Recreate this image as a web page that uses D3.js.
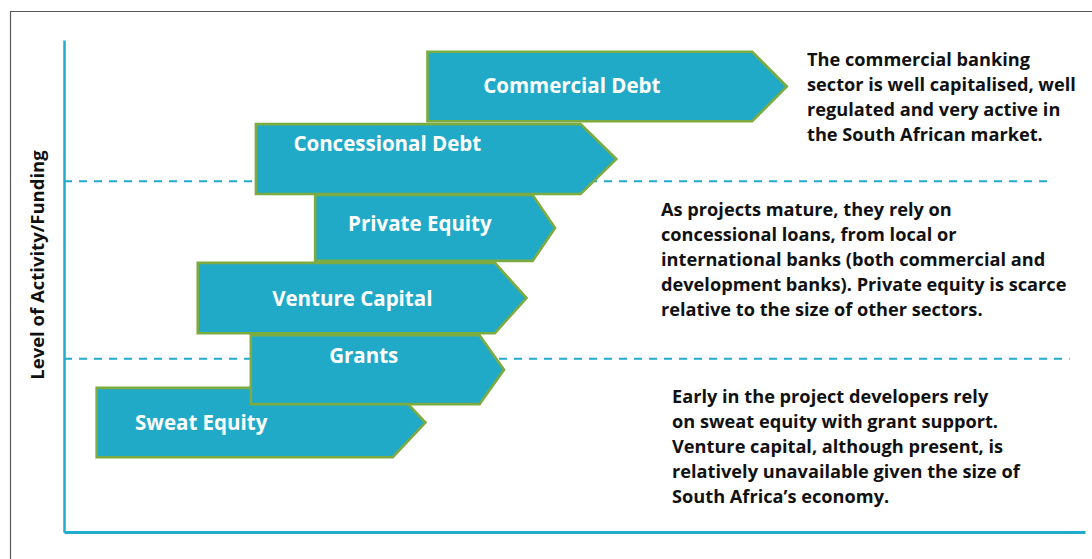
<!DOCTYPE html>
<html>
<head>
<meta charset="utf-8">
<script src="https://cdn.jsdelivr.net/npm/d3@7/dist/d3.min.js"></script>
<style>
  html, body { margin: 0; padding: 0; background: #fff; }
  svg { display: block; }
</style>
</head>
<body>
<svg id="chart" width="1092" height="559"></svg>
<script>
// ---------------- DATA ----------------
const categories   = ["Commercial Debt", "Concessional Debt", "Private Equity", "Venture Capital", "Grants", "Sweat Equity"];
const startStage   = [35.6, 18.8, 24.6, 13.1, 18.3, 3.2];   // project stage where funding begins
const shoulderStage= [67.4, 50.6, 45.9, 42.2, 40.7, 32.2];  // where the arrow head begins
const tipStage     = [70.8, 54.1, 48.1, 45.3, 43.1, 35.4];  // arrow tip
const levelTop     = [97.6, 82.9, 68.5, 54.7, 40.0, 29.3];  // level of activity (top of band)
const levelBottom  = [83.5, 68.7, 55.1, 40.4, 26.0, 15.2];  // level of activity (bottom of band)

const thresholdLevels = [71.3, 35.2];
const thresholdEnds   = [96.8, 98.5];

const axisLabel = "Level of Activity/Funding";

const notes1 = ["The commercial banking", "sector is well capitalised, well", "regulated and very active in", "the South African market."];
const notes2 = ["As projects mature, they rely on", "concessional loans, from local or", "international banks (both commercial and", "development banks). Private equity is scarce", "relative to the size of other sectors."];
const notes3 = ["Early in the project developers rely", "on sweat equity with grant support.", "Venture capital, although present, is", "relatively unavailable given the size of", "South Africa\u2019s economy."];

// ---------------- LAYOUT / STYLE ----------------
const W = 1092, H = 559;
const FONT = "'Open Sans', 'Noto Sans', sans-serif";
const TEAL = "#22abcc";
const FILL = "#21aac8";
const GREEN = "#7cab41";
// label offsets in px relative to arrow-body centre (dx) and band centre (dy, to baseline)
const labelOffset = [[-18, 6.5], [-31, -8], [-4, 3], [6, 8], [-1.5, -6.5], [-43.5, 7.5]];
const noteBlocks = [
  { lines: notes1, x: 807, y: 66 },
  { lines: notes2, x: 661, y: 216 },
  { lines: notes3, x: 672, y: 403 }
];

const x = d3.scaleLinear().domain([0, 100]).range([64, 1085]);
const y = d3.scaleLinear().domain([0, 100]).range([532, 40]);

const svg = d3.select("#chart");

// frame
svg.append("path")
  .attr("d", `M10.5,${H} L10.5,11.5 L${W},11.5`)
  .attr("fill", "none").attr("stroke", "#5a5a5a").attr("stroke-width", 1.2);

// dashed threshold lines
svg.selectAll("line.threshold")
  .data(thresholdLevels)
  .join("line")
  .attr("class", "threshold")
  .attr("x1", x(0)).attr("x2", (d, i) => x(thresholdEnds[i]))
  .attr("y1", d => y(d)).attr("y2", d => y(d))
  .attr("stroke", TEAL).attr("stroke-width", 2).attr("stroke-dasharray", "8,7");

// axes (no ticks)
const yAxis = d3.axisLeft(y).tickValues([]).tickSizeOuter(0);
const xAxis = d3.axisBottom(x).tickValues([]).tickSizeOuter(0);
const gy = svg.append("g").attr("transform", `translate(${x(0)},0)`).call(yAxis);
gy.select(".domain").attr("stroke", TEAL).attr("stroke-width", 2.5);
const gx = svg.append("g").attr("transform", `translate(0,${y(0)})`).call(xAxis);
gx.select(".domain").attr("stroke", TEAL).attr("stroke-width", 3);

// axis label
svg.append("text")
  .attr("transform", `translate(44,265) rotate(-90)`)
  .attr("text-anchor", "middle")
  .attr("font-family", FONT).attr("font-weight", 700).attr("font-size", 18.5)
  .attr("fill", "#111")
  .text(axisLabel);

// arrows: draw bottom ones first so upper ones overlap
const idx = d3.range(categories.length).reverse();
const arrowPath = i => {
  const x0 = x(startStage[i]), x1 = x(shoulderStage[i]), xt = x(tipStage[i]);
  const y0 = y(levelTop[i]), y1 = y(levelBottom[i]), ym = (y0 + y1) / 2;
  return `M${x0},${y0} L${x1},${y0} L${xt},${ym} L${x1},${y1} L${x0},${y1} Z`;
};
const g = svg.selectAll("g.arrow").data(idx).join("g").attr("class", "arrow");
g.append("path")
  .attr("d", i => arrowPath(i))
  .attr("fill", FILL).attr("stroke", GREEN).attr("stroke-width", 2.6)
  .attr("stroke-linejoin", "miter");
g.append("text")
  .attr("x", i => (x(startStage[i]) + x(shoulderStage[i])) / 2 + labelOffset[i][0])
  .attr("y", i => (y(levelTop[i]) + y(levelBottom[i])) / 2 + labelOffset[i][1])
  .attr("text-anchor", "middle")
  .attr("font-family", FONT).attr("font-weight", 700).attr("font-size", 20.5)
  .attr("fill", "#fff")
  .text(i => categories[i]);

// notes
noteBlocks.forEach(b => {
  const t = svg.append("text")
    .attr("font-family", FONT).attr("font-weight", 700).attr("font-size", 18.2)
    .attr("fill", "#111");
  t.selectAll("tspan").data(b.lines).join("tspan")
    .attr("x", b.x).attr("y", (d, i) => b.y + i * 25)
    .text(d => d);
});
</script>
</body>
</html>
